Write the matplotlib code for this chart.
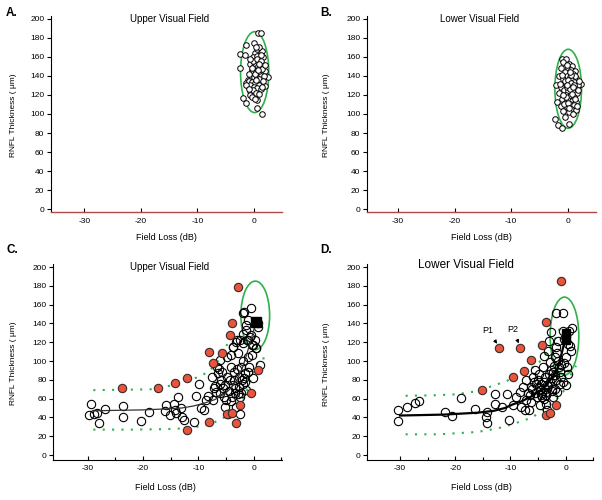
import matplotlib
matplotlib.use('Agg')
import matplotlib.pyplot as plt
from matplotlib.patches import Ellipse
import numpy as np

plt.rcParams['font.family'] = ['Liberation Sans', 'DejaVu Sans']
plt.rcParams['axes.unicode_minus'] = False

# ---- panel A: upper visual field, normal eyes ----
a_x = [0.8, 1.2, 0.0, -1.3, -2.5, -1.5, 0.2, 1.4, 0.6, 1.0, -0.2, 0.5, 1.7, -0.7, 0.7, 1.6, -2.5, -0.4,
       1.9, 2.5, -1.0, -1.3, 0.5, 1.4, 1.9, -1.0, -0.7, 0.7, -1.9, -1.3, 0.5, 0.5, 1.4, -0.7,
       0.1, 0.4, 0.8, 1.1, -0.2, 0.3, 0.9, 1.3, -0.5, 0.0, 0.6, 1.0, -0.8, -0.3, 0.2, 0.9, -0.6,
       0.1, 0.5, 1.2, -0.2, 0.3, 0.9, -0.4, 0.2, 1.0, 1.5, -0.1, 0.6, 1.3, 0.2, 0.7, -0.9, 1.8,
       1.6, 0.4, -0.3, 0.9, 1.2, 0.3, -0.6, 2.0, 1.5, -1.4, -0.9]
a_y = [185, 185, 175, 172, 163, 162, 164, 166, 168, 170, 160, 161, 160, 153, 155, 152, 148, 146,
       145, 139, 136, 133, 132, 132, 129, 129, 124, 124, 117, 112, 115, 106, 100, 120,
       150, 152, 150, 148, 145, 144, 143, 141, 140, 139, 138, 137, 135, 134, 133, 131, 130,
       128, 127, 126, 125, 122, 121, 118, 116, 145, 147, 156, 158, 156, 142, 146, 142, 140,
       135, 136, 148, 153, 162, 170, 158, 152, 128, 130, 126]

# ---- panel B: lower visual field, normal eyes ----
b_x = [-1.1, -0.3, -0.8, 0.2, 0.8, -1.3, 0.0, 0.5, 1.2, -0.6, 0.9, -1.5, -0.2, 0.3, 1.5, -0.9, 0.7,
       1.1, -2.1, 2.3, -0.4, 0.2, 1.7, -1.2, 0.6, 1.3, -0.7, 0.0, 0.9, -1.6, 1.6, -0.3, 0.4, 1.1,
       -1.0, 0.1, 0.8, 1.5, -2.0, -0.5, 0.3, 1.0, -1.3, -0.1, 0.6, 1.4, -0.8, 0.2, -2.3, -1.8,
       -1.1, 0.2, -0.5, 0.9, -0.6, 0.1, 0.5, 1.0, -0.2, 0.4, 1.2, -1.1, 0.6, -0.4, 0.7, 1.8,
       1.3, -0.7, 0.0, 1.9, -1.4, 0.3, -0.1, 0.9, -0.9, 1.6, 0.2, -0.2]
b_y = [158, 158, 155, 153, 150, 148, 148, 146, 145, 144, 142, 140, 140, 139, 138, 137, 136,
       134, 130, 132, 133, 131, 130, 128, 128, 127, 125, 124, 123, 122, 122, 120, 119, 118,
       116, 115, 114, 113, 113, 112, 110, 109, 108, 107, 105, 104, 103, 102, 95, 88,
       85, 89, 97, 100, 135, 136, 133, 131, 128, 126, 140, 141, 141, 118, 121, 125,
       116, 110, 112, 135, 132, 144, 152, 128, 120, 108, 106, 131]

# ---- panel C: upper visual field, glaucoma ----
c_x = [-29.5, -29.7, -28.9, -28.4, -28.0, -26.8, -23.6, -23.6, -20.4, -19.0, -16.0, -15.8, -15.2,
       -14.4, -14.3, -14.1, -13.1, -13.7, -12.9, -12.6, -10.7, -10.5, -9.8, -9.5, -8.9, -8.7,
       -8.3, -7.6, -7.4, -7.1, -6.7, -6.4, -6.1, -6.1, -5.7, -5.5, -5.4, -5.1, -4.9, -4.6, -4.3,
       -4.0, -3.9, -3.7, -3.6, -3.4, -3.1, -3.0, -2.8, -2.7, -2.5, -2.4, -2.2, -2.0, -1.9, -1.8,
       -1.6, -1.4, -1.3, -1.2, -1.0, -0.85, -0.6, -0.4, -0.24, -0.12, 0.2, 0.36, 0.8, 1.1, -0.24,
       -1.9, -1.0, 0.8, -1.3, -0.4, -1.0, -0.1, 0.5, -1.9, -2.5, -3.1, -3.7, -4.0,
       -6.8, -6.0, -5.2, -4.5, -3.8, -3.3, -2.6, -2.1, -1.5, -5.9, -4.8, -3.5, -2.9, -1.7,
       -7.0, -5.0, -4.1, -2.3, -1.1, -6.3, -3.0, -2.0]
c_y = [54, 42.5, 43.6, 44.4, 34.4, 49, 52, 40, 36, 45.4, 47, 53, 42.5,
       54, 48, 44.7, 49.7, 62, 40.7, 37, 35.4, 62.7, 76, 49.7, 47.9, 58.5,
       62.8, 83, 58.5, 71, 94, 87, 76, 101, 88.6, 71, 62, 51.4, 104.6, 44, 79.8,
       94, 62, 115, 88.6, 71, 51.4, 122, 108, 83, 62, 44, 94, 76, 129, 152.5,
       87, 69, 138, 122, 104.6, 94, 126, 156, 117, 81.6, 122, 113.5, 136.5, 95.7, 106,
       150.7, 143.6, 140, 133, 127.7, 122, 117, 113.5, 118.8, 122, 120.5, 115, 106,
       67, 66, 74, 68, 75, 66, 72, 80, 78, 80, 83, 80, 65, 82,
       73, 58, 57, 66, 88, 92, 92, 100]
c_red_x = [-23.8, -17.3, -14.2, -12.1, -12.1, -8.1, -8.0, -7.4, -5.7, -4.9, -3.9, -3.1, -2.5,
           -4.3, -3.9, -2.8, -0.4, 0.8]
c_red_y = [71.6, 71.6, 77, 81.6, 27, 110, 35.4, 97.5, 108.8, 44, 45, 33.7, 53,
           127.6, 140, 179, 65.6, 90]
c_fit_x = [-29, -25, -20, -16, -13, -11, -9, -7, -5, -4, -3, -2, -1, 0, 0.4]
c_fit_y = [47, 47.5, 48, 49, 50, 52, 55, 59, 66, 72, 80, 93, 112, 132, 142]
c_up_x = [-29, -23, -17.5, -15, -12, -10, -8, -6, -5, -4]
c_up_y = [69, 69.5, 70, 74, 79, 83, 89, 103, 115, 128]
c_lo_x = [-29, -22, -16, -12, -9, -7, -5, -3, -2, -1, 0, 1, 2]
c_lo_y = [27, 27, 27.5, 28.5, 31, 35, 41, 49, 58, 72, 88, 102, 103]

# ---- panel D: lower visual field, glaucoma ----
d_x = [-30.3, -30.3, -28.8, -27.3, -26.6, -19.0, -21.8, -20.5, -16.5, -14.3, -14.5, -14.2, -12.8,
       -12.8, -11.6, -10.6, -10.3, -9.5, -8.9, -8.3, -8.0, -7.4, -6.6, -7.7, -7.1, -6.5, -6.2,
       -5.9, -5.6, -5.3, -5.2, -4.8, -4.7, -4.6, -4.4, -4.2, -4.1, -4.0, -3.8, -3.6, -3.5, -3.4,
       -3.2, -3.0, -2.9, -2.8, -2.6, -2.4, -2.3, -2.2, -2.0, -1.8, -1.7, -1.6, -1.4, -1.2, -1.1,
       -0.8, -1.8, -0.5, -0.5, -0.2, 0.1, 0.3, 0.4, 1.0, 1.2, 0.6, -0.5, 0.1,
       -6.0, -5.5, -4.9, -4.3, -3.7, -3.1, -2.5, -1.9, -5.8, -5.0, -4.5, -3.9, -3.3, -2.7, -2.1,
       -1.3, -6.8, -4.0, -3.0, -2.0, -1.0, -0.3, 0.8, -7.2, -6.3, -3.5, -2.5, -1.5, -0.9, 0.5]
d_y = [47.6, 36.3, 51, 55.8, 57, 60.6, 45.8, 41.6, 48.7, 45.8, 39.9, 34.2, 65.3,
       54, 51, 64.5, 37, 53, 61.7, 67, 51, 47.6, 47.6, 72, 79.4, 63.5, 72,
       82.9, 90, 75.9, 61.7, 86.5, 53, 68.8, 75.9, 61.7, 93.4, 105.8, 82.9, 67, 54.7, 47.6,
       111, 121.7, 98.7, 77.6, 130.5, 70.6, 88.1, 61.7, 104, 114.6, 79.4, 67, 121.7, 93.4, 75.9,
       82.9, 151.6, 151.6, 132, 123.5, 104, 93.4, 86.5, 111, 135, 131.5, 77.6, 74,
       70, 66, 72, 66, 70, 73, 68, 85, 78, 80, 64, 60, 74, 90, 95,
       100, 66, 78, 86, 70, 88, 98, 116, 58, 56, 64, 82, 108, 96, 118]
d_red_x = [-15.2, -12.1, -8.3, -9.5, -7.6, -6.2, -4.3, -3.5, -3.5, -2.8, -1.8, -0.9]
d_red_y = [68.8, 113.5, 113.5, 82.9, 88.9, 101.2, 117.5, 142, 42.3, 44.8, 53.6, 185]
d_fit_x = [-30, -22, -16, -13, -11, -9.5, -8, -6, -4, -3, -2, -1.4, -0.8, -0.2, 0]
d_fit_y = [42, 43, 45, 47, 50, 54, 57, 63, 71, 78, 86, 93, 106, 120, 125]
d_up_x = [-29, -24, -20, -17, -14, -11, -9, -7, -5, -4, -3, -2, -1]
d_up_y = [63, 63.5, 64.5, 67, 72, 78, 83, 89, 97, 104, 112, 122, 135]
d_lo_x = [-29, -23, -16, -12.5, -9.5, -6, -3, -1, 0.4, 1, 1.9]
d_lo_y = [22, 22, 24.5, 28, 33, 40, 53, 63, 74, 86, 95]

yticks = np.arange(0, 201, 20)
xticks = [-30, -20, -10, 0]
green = '#2fb14a'
dots = (0, (1.0, 3.5))


def style_axes(ax, xlim, ylim, red_base):
    ax.set_xlim(*xlim)
    ax.set_ylim(*ylim)
    ax.spines['top'].set_visible(False)
    ax.spines['right'].set_visible(False)
    ax.set_yticks(yticks)
    ax.set_xticks(xticks)
    ax.tick_params(axis='y', direction='out', length=3, width=0.8, labelsize=6, pad=1.5)
    ax.tick_params(axis='x', direction='in', length=3, width=0.8, labelsize=6, pad=4)
    if red_base:
        ax.spines['bottom'].set_color('#b04848')
        ax.spines['bottom'].set_linewidth(1.0)
        ax.tick_params(axis='x', colors='black')
    else:
        ax.set_xticks([-25, -15, -5, 5], minor=True)
        ax.tick_params(axis='x', which='minor', direction='in', length=2, width=0.8)


fig = plt.figure(figsize=(6.02, 5.0), dpi=100)

axA = fig.add_axes([0.0841, 0.576, 0.3844, 0.392])
axB = fig.add_axes([0.609, 0.576, 0.3815, 0.392])
axC = fig.add_axes([0.088, 0.0806, 0.381, 0.391])
axD = fig.add_axes([0.6096, 0.0806, 0.3757, 0.391])

style_axes(axA, (-36, 5), (-3, 203), True)
style_axes(axB, (-35.5, 5), (-3, 203), True)
style_axes(axC, (-36.3, 5.2), (-5, 203), False)
style_axes(axD, (-36, 4.9), (-5, 203), False)

# A
axA.plot(a_x, a_y, 'o', mfc='white', mec='black', ms=4, mew=0.7)
axA.add_patch(Ellipse((0.15, 144), 5.0, 85, fill=False, ec=green, lw=1.2))
axA.text(-15, 200, 'Upper Visual Field', ha='center', va='center', fontsize=7)

# B
axB.plot(b_x, b_y, 'o', mfc='white', mec='black', ms=4, mew=0.7)
axB.add_patch(Ellipse((0.05, 126.5), 4.7, 83, fill=False, ec=green, lw=1.2))
axB.text(-15.5, 200, 'Lower Visual Field', ha='center', va='center', fontsize=7)

# C
axC.plot(c_up_x, c_up_y, linestyle=dots, color=green, lw=1.5)
axC.plot(c_lo_x, c_lo_y, linestyle=dots, color=green, lw=1.5)
axC.plot(c_x, c_y, 'o', mfc='none', mec='black', ms=6, mew=0.8)
axC.plot(c_red_x, c_red_y, 'o', mfc='#e8553c', mec='#3a2a2a', ms=6, mew=0.8)
axC.plot(c_fit_x, c_fit_y, '-', color='#333333', lw=0.9)
axC.plot([0.5], [142], 's', color='black', ms=7)
axC.add_patch(Ellipse((0.3, 148.5), 5.2, 73, fill=False, ec=green, lw=1.2))
axC.text(-15.2, 200, 'Upper Visual Field', ha='center', va='center', fontsize=7)

# D
axD.plot(d_up_x, d_up_y, linestyle=dots, color=green, lw=1.5)
axD.plot(d_lo_x, d_lo_y, linestyle=dots, color=green, lw=1.5)
axD.plot(d_x, d_y, 'o', mfc='none', mec='black', ms=6, mew=0.8)
axD.plot(d_red_x, d_red_y, 'o', mfc='#e8553c', mec='#3a2a2a', ms=6, mew=0.8)
axD.plot(d_fit_x, d_fit_y, '-', color='black', lw=1.6)
axD.plot([0.1, 0.1], [122, 130], 's', color='black', ms=6)
axD.add_patch(Ellipse((-0.2, 126.5), 5.2, 83, fill=False, ec=green, lw=1.2))
axD.text(-18, 202, 'Lower Visual Field', ha='center', va='center', fontsize=8.5)
axD.annotate('P1', xy=(-12.1, 116), xytext=(-14.1, 132), ha='center', va='center', fontsize=6.5,
             arrowprops=dict(arrowstyle='-|>', color='black', lw=0.7, mutation_scale=5))
axD.annotate('P2', xy=(-8.3, 116), xytext=(-9.5, 133), ha='center', va='center', fontsize=6.5,
             arrowprops=dict(arrowstyle='-|>', color='black', lw=0.7, mutation_scale=5))

# labels
ylab = 'RNFL Thickness ( μm)'
for x, y in [(0.023, 0.77), (0.543, 0.77), (0.023, 0.274), (0.543, 0.272)]:
    fig.text(x, y, ylab, rotation=90, ha='center', va='center', fontsize=6)
for x, y in [(0.277, 0.526), (0.799, 0.526), (0.274, 0.026), (0.799, 0.026)]:
    fig.text(x, y, 'Field Loss (dB)', ha='center', va='center', fontsize=6.5)
for lab, x, y in [('A.', 0.02, 0.974), ('B.', 0.542, 0.974), ('C.', 0.02, 0.5), ('D.', 0.542, 0.5)]:
    fig.text(x, y, lab, ha='center', va='center', fontsize=8.5, fontweight='bold')

fig.savefig('out.png', dpi=100)
